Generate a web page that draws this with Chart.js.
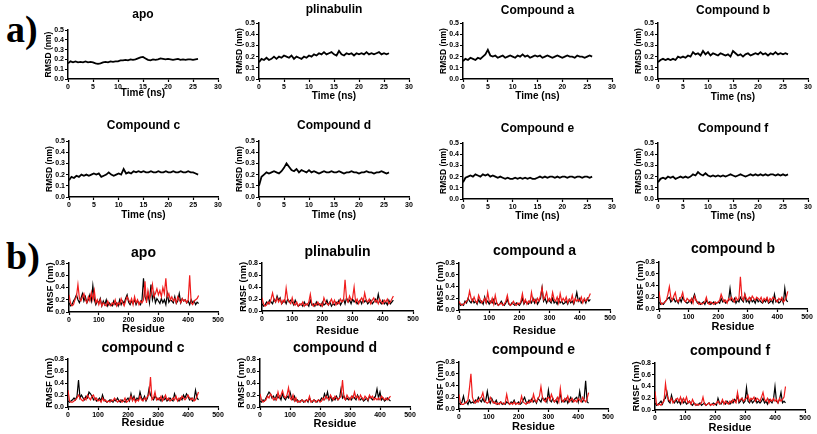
<!DOCTYPE html>
<html>
<head>
<meta charset="utf-8">
<script src="https://cdn.jsdelivr.net/npm/chart.js@4.4.1/dist/chart.umd.min.js"></script>
<style>
  html, body { margin: 0; padding: 0; background: #fff; width: 817px; height: 434px; overflow: hidden; }
  .panel { position: absolute; }
  .tag { position: absolute; font-family: "Liberation Serif", "DejaVu Serif", serif; font-weight: bold; font-size: 38px; line-height: 1; }
</style>
</head>
<body>
<div class="tag" style="left:6px;top:10px">a)</div>
<div class="tag" style="left:6px;top:237px">b)</div>
<script>
// ---- data ----
const timeNs = [0,0.5,1,1.5,2,2.5,3,3.5,4,4.5,5,5.5,6,6.5,7,7.5,8,8.5,9,9.5,10,10.5,11,11.5,12,12.5,13,13.5,14,14.5,
  15,15.5,16,16.5,17,17.5,18,18.5,19,19.5,20,20.5,21,21.5,22,22.5,23,23.5,24,24.5,25,25.5,26];

const rmsdApo = [0.16,0.18,0.17,0.18,0.17,0.175,0.17,0.18,0.17,0.175, 0.17,0.16,0.155,0.16,0.17,0.175,0.17,0.18,0.175,0.18,
  0.18,0.19,0.19,0.195,0.19,0.2,0.195,0.2,0.21,0.22, 0.225,0.21,0.195,0.19,0.2,0.195,0.2,0.21,0.205,0.2,
  0.205,0.2,0.195,0.2,0.205,0.195,0.2,0.195,0.2,0.2, 0.195,0.2,0.205];
const rmsdPlinabulin = [0.15,0.18,0.17,0.19,0.17,0.18,0.2,0.18,0.2,0.19, 0.21,0.2,0.19,0.21,0.18,0.2,0.19,0.18,0.2,0.19,
  0.21,0.2,0.22,0.21,0.23,0.22,0.24,0.22,0.23,0.24, 0.22,0.21,0.25,0.22,0.21,0.23,0.22,0.23,0.21,0.23,
  0.22,0.23,0.22,0.24,0.22,0.23,0.22,0.23,0.24,0.22, 0.23,0.22,0.23];
const rmsdCpdA = [0.16,0.18,0.17,0.19,0.18,0.17,0.19,0.18,0.2,0.22, 0.26,0.21,0.2,0.21,0.19,0.2,0.21,0.19,0.2,0.21,
  0.2,0.19,0.21,0.2,0.22,0.2,0.21,0.19,0.2,0.21, 0.2,0.21,0.19,0.2,0.21,0.2,0.19,0.2,0.21,0.2,
  0.19,0.2,0.21,0.2,0.2,0.19,0.21,0.2,0.2,0.19, 0.2,0.21,0.2];
const rmsdCpdB = [0.15,0.17,0.18,0.17,0.18,0.17,0.18,0.17,0.2,0.19, 0.2,0.19,0.21,0.2,0.24,0.22,0.23,0.21,0.25,0.22,
  0.24,0.21,0.23,0.22,0.21,0.23,0.22,0.21,0.22,0.2, 0.25,0.23,0.21,0.22,0.2,0.22,0.23,0.21,0.22,0.23,
  0.22,0.24,0.22,0.23,0.21,0.23,0.22,0.24,0.22,0.23, 0.22,0.23,0.22];
const rmsdCpdC = [0.15,0.18,0.17,0.19,0.18,0.2,0.19,0.2,0.19,0.2, 0.21,0.2,0.21,0.18,0.19,0.2,0.22,0.2,0.19,0.2,
  0.21,0.2,0.25,0.21,0.22,0.21,0.23,0.22,0.23,0.22, 0.23,0.22,0.22,0.23,0.22,0.22,0.23,0.22,0.22,0.23,
  0.22,0.22,0.23,0.22,0.22,0.23,0.22,0.22,0.23,0.22, 0.22,0.21,0.2];
const rmsdCpdD = [0.1,0.18,0.2,0.22,0.21,0.22,0.23,0.22,0.21,0.23, 0.26,0.3,0.27,0.24,0.23,0.25,0.22,0.24,0.23,0.22,
  0.24,0.22,0.23,0.22,0.21,0.22,0.23,0.22,0.22,0.23, 0.22,0.22,0.23,0.22,0.21,0.22,0.22,0.23,0.22,0.22,
  0.21,0.22,0.22,0.23,0.22,0.22,0.21,0.22,0.22,0.23, 0.22,0.21,0.22];
const rmsdCpdE = [0.15,0.19,0.2,0.21,0.2,0.22,0.21,0.2,0.22,0.21, 0.22,0.2,0.21,0.2,0.19,0.2,0.19,0.18,0.19,0.18,
  0.18,0.19,0.18,0.19,0.18,0.19,0.18,0.19,0.18,0.18, 0.19,0.2,0.19,0.2,0.19,0.2,0.2,0.19,0.2,0.19,
  0.2,0.2,0.19,0.2,0.2,0.19,0.2,0.2,0.19,0.2, 0.2,0.19,0.2];
const rmsdCpdF = [0.15,0.18,0.19,0.18,0.2,0.19,0.2,0.18,0.19,0.2, 0.19,0.2,0.19,0.2,0.22,0.21,0.24,0.22,0.21,0.23,
  0.21,0.2,0.21,0.2,0.21,0.2,0.21,0.2,0.21,0.22, 0.21,0.2,0.21,0.22,0.21,0.2,0.21,0.22,0.21,0.22,
  0.21,0.22,0.21,0.22,0.21,0.22,0.22,0.21,0.22,0.21, 0.22,0.21,0.22];

const residueNo = [0,5,10,15,20,25,30,35,40,45,50,55,60,65,70,75,80,85,90,95,100,105,110,115,120,125,130,135,140,145,
  150,155,160,165,170,175,180,185,190,195,200,205,210,215,220,225,230,235,240,245,250,255,260,265,270,275,280,285,290,295,
  300,305,310,315,320,325,330,335,340,345,350,355,360,365,370,375,380,385,390,395,400,405,410,415,420,425,430,435];

const rmsfApoBlack = [0.15,0.10,0.12,0.18,0.22,0.28,0.20,0.15,0.22,0.30, 0.18,0.25,0.15,0.20,0.28,0.18,0.43,0.20,0.12,0.18,
  0.15,0.22,0.10,0.18,0.12,0.20,0.10,0.15,0.12,0.10, 0.18,0.12,0.15,0.10,0.20,0.12,0.18,0.14,0.22,0.28,
  0.16,0.12,0.18,0.14,0.20,0.12,0.18,0.15,0.12,0.20, 0.55,0.25,0.18,0.30,0.15,0.45,0.20,0.30,0.15,0.22,
  0.18,0.14,0.22,0.15,0.20,0.12,0.30,0.16,0.20,0.18, 0.15,0.25,0.14,0.18,0.30,0.15,0.22,0.18,0.20,0.15,
  0.18,0.12,0.20,0.15,0.18,0.12,0.16,0.14];
const rmsfApoRed = [0.28,0.15,0.10,0.12,0.20,0.25,0.45,0.22,0.18,0.25, 0.30,0.20,0.15,0.25,0.18,0.32,0.20,0.35,0.15,0.20,
  0.12,0.20,0.10,0.15,0.12,0.10,0.18,0.12,0.10,0.15, 0.12,0.20,0.10,0.15,0.12,0.22,0.15,0.10,0.18,0.25,
  0.20,0.15,0.22,0.12,0.25,0.15,0.20,0.12,0.18,0.15, 0.20,0.50,0.15,0.35,0.22,0.30,0.45,0.25,0.30,0.38,
  0.28,0.35,0.25,0.40,0.30,0.55,0.25,0.30,0.20,0.25, 0.18,0.22,0.15,0.25,0.20,0.15,0.22,0.18,0.20,0.15,
  0.20,0.60,0.15,0.12,0.18,0.20,0.22,0.27];
const rmsfPlinBlack = [0.12,0.08,0.10,0.15,0.12,0.18,0.15,0.12,0.20,0.15, 0.25,0.18,0.22,0.12,0.15,0.18,0.12,0.20,0.15,0.18,
  0.15,0.10,0.18,0.12,0.08,0.10,0.12,0.08,0.15,0.10, 0.12,0.08,0.18,0.10,0.12,0.08,0.15,0.10,0.12,0.08,
  0.15,0.10,0.12,0.18,0.10,0.15,0.08,0.12,0.10,0.15, 0.12,0.18,0.10,0.15,0.20,0.12,0.22,0.15,0.18,0.12,
  0.20,0.15,0.18,0.12,0.15,0.18,0.12,0.20,0.15,0.18, 0.12,0.15,0.18,0.12,0.15,0.20,0.15,0.28,0.15,0.12,
  0.18,0.12,0.15,0.10,0.18,0.12,0.15,0.18];
const rmsfPlinRed = [0.22,0.12,0.08,0.10,0.15,0.12,0.20,0.30,0.18,0.15, 0.22,0.15,0.20,0.12,0.18,0.15,0.38,0.20,0.15,0.12,
  0.22,0.12,0.10,0.15,0.08,0.12,0.10,0.15,0.08,0.12, 0.10,0.15,0.28,0.12,0.08,0.12,0.10,0.15,0.10,0.12,
  0.08,0.22,0.15,0.12,0.10,0.15,0.20,0.12,0.18,0.10, 0.15,0.12,0.20,0.15,0.18,0.52,0.20,0.15,0.25,0.18,
  0.22,0.40,0.15,0.20,0.12,0.18,0.22,0.15,0.30,0.18, 0.15,0.20,0.12,0.18,0.22,0.15,0.18,0.12,0.20,0.15,
  0.12,0.18,0.15,0.20,0.12,0.15,0.20,0.25];
const rmsfABlack = [0.12,0.08,0.10,0.08,0.15,0.12,0.20,0.15,0.12,0.18, 0.12,0.15,0.10,0.18,0.12,0.15,0.10,0.22,0.12,0.15,
  0.10,0.15,0.12,0.18,0.10,0.12,0.08,0.10,0.15,0.10, 0.08,0.12,0.18,0.10,0.08,0.12,0.10,0.08,0.12,0.10,
  0.08,0.12,0.20,0.10,0.15,0.12,0.10,0.15,0.12,0.20, 0.12,0.18,0.10,0.15,0.20,0.38,0.15,0.20,0.12,0.18,
  0.15,0.12,0.20,0.12,0.15,0.10,0.18,0.12,0.15,0.10, 0.12,0.15,0.10,0.18,0.12,0.15,0.10,0.18,0.30,0.15,
  0.20,0.12,0.15,0.18,0.12,0.20,0.15,0.18];
const rmsfARed = [0.15,0.10,0.08,0.10,0.12,0.15,0.18,0.32,0.20,0.15, 0.22,0.15,0.12,0.25,0.18,0.12,0.15,0.20,0.12,0.30,
  0.15,0.12,0.20,0.10,0.25,0.12,0.08,0.10,0.12,0.08, 0.10,0.15,0.25,0.12,0.08,0.10,0.15,0.10,0.08,0.12,
  0.10,0.15,0.28,0.12,0.18,0.10,0.15,0.12,0.30,0.15, 0.18,0.12,0.20,0.15,0.25,0.38,0.18,0.22,0.30,0.15,
  0.20,0.15,0.30,0.18,0.15,0.22,0.12,0.28,0.15,0.20, 0.15,0.22,0.12,0.18,0.15,0.25,0.12,0.20,0.15,0.18,
  0.15,0.22,0.12,0.20,0.15,0.18,0.22,0.28];
const rmsfBBlack = [0.12,0.08,0.10,0.08,0.12,0.15,0.18,0.20,0.12,0.15, 0.18,0.12,0.15,0.10,0.18,0.12,0.20,0.15,0.12,0.10,
  0.12,0.15,0.10,0.18,0.25,0.15,0.10,0.12,0.08,0.10, 0.12,0.08,0.15,0.10,0.12,0.08,0.10,0.12,0.08,0.10,
  0.12,0.10,0.18,0.12,0.15,0.10,0.12,0.15,0.35,0.15, 0.12,0.18,0.10,0.15,0.12,0.20,0.15,0.12,0.25,0.12,
  0.15,0.10,0.18,0.12,0.15,0.10,0.18,0.12,0.15,0.12, 0.10,0.15,0.12,0.18,0.10,0.12,0.15,0.10,0.25,0.12,
  0.15,0.10,0.12,0.18,0.10,0.35,0.15,0.12];
const rmsfBRed = [0.30,0.12,0.08,0.10,0.12,0.15,0.25,0.38,0.20,0.15, 0.22,0.28,0.15,0.12,0.18,0.20,0.28,0.15,0.12,0.18,
  0.15,0.12,0.18,0.10,0.22,0.15,0.12,0.08,0.10,0.08, 0.10,0.12,0.20,0.10,0.08,0.12,0.10,0.08,0.12,0.10,
  0.12,0.15,0.25,0.18,0.12,0.15,0.10,0.18,0.15,0.20, 0.15,0.12,0.20,0.15,0.18,0.55,0.20,0.15,0.25,0.18,
  0.15,0.20,0.15,0.22,0.18,0.15,0.20,0.18,0.15,0.20, 0.12,0.18,0.15,0.20,0.12,0.18,0.15,0.20,0.18,0.15,
  0.12,0.18,0.15,0.20,0.12,0.15,0.20,0.30];
const rmsfCBlack = [0.10,0.08,0.10,0.12,0.15,0.12,0.18,0.45,0.15,0.20, 0.15,0.12,0.18,0.15,0.25,0.22,0.18,0.12,0.15,0.10,
  0.12,0.15,0.10,0.20,0.12,0.10,0.08,0.10,0.12,0.10, 0.08,0.12,0.10,0.15,0.10,0.08,0.12,0.10,0.08,0.12,
  0.15,0.10,0.22,0.12,0.18,0.10,0.15,0.12,0.25,0.15, 0.12,0.18,0.10,0.15,0.30,0.20,0.15,0.12,0.18,0.15,
  0.12,0.15,0.10,0.18,0.12,0.15,0.10,0.12,0.15,0.12, 0.10,0.22,0.15,0.12,0.10,0.15,0.12,0.20,0.15,0.22,
  0.18,0.12,0.15,0.10,0.12,0.28,0.15,0.12];
const rmsfCRed = [0.28,0.10,0.08,0.08,0.10,0.12,0.15,0.20,0.15,0.12, 0.10,0.15,0.12,0.20,0.15,0.12,0.18,0.20,0.12,0.15,
  0.10,0.12,0.08,0.15,0.10,0.12,0.08,0.10,0.08,0.12, 0.10,0.15,0.12,0.08,0.10,0.12,0.08,0.10,0.15,0.08,
  0.10,0.12,0.18,0.10,0.15,0.08,0.12,0.10,0.18,0.12, 0.10,0.15,0.12,0.18,0.20,0.50,0.12,0.15,0.25,0.12,
  0.15,0.12,0.18,0.10,0.15,0.20,0.12,0.15,0.10,0.12, 0.15,0.12,0.18,0.10,0.15,0.12,0.18,0.15,0.12,0.15,
  0.20,0.15,0.12,0.15,0.10,0.12,0.18,0.25];
const rmsfDBlack = [0.10,0.08,0.12,0.10,0.15,0.20,0.25,0.22,0.15,0.18, 0.12,0.20,0.15,0.18,0.12,0.22,0.15,0.12,0.18,0.15,
  0.25,0.15,0.12,0.18,0.10,0.12,0.08,0.10,0.12,0.08, 0.10,0.12,0.08,0.15,0.10,0.08,0.12,0.10,0.08,0.12,
  0.10,0.15,0.12,0.22,0.15,0.25,0.12,0.18,0.10,0.15, 0.12,0.18,0.12,0.15,0.30,0.15,0.18,0.12,0.15,0.12,
  0.15,0.12,0.18,0.15,0.12,0.20,0.15,0.12,0.15,0.10, 0.12,0.15,0.10,0.18,0.15,0.12,0.15,0.18,0.30,0.15,
  0.25,0.12,0.15,0.10,0.12,0.15,0.12,0.10];
const rmsfDRed = [0.22,0.12,0.08,0.10,0.12,0.18,0.15,0.22,0.18,0.12, 0.15,0.12,0.25,0.15,0.20,0.27,0.18,0.15,0.20,0.32,
  0.15,0.12,0.20,0.10,0.15,0.08,0.10,0.08,0.12,0.10, 0.08,0.12,0.10,0.18,0.08,0.10,0.12,0.08,0.10,0.12,
  0.08,0.10,0.15,0.12,0.18,0.15,0.12,0.20,0.15,0.12, 0.18,0.15,0.12,0.15,0.18,0.45,0.15,0.12,0.20,0.15,
  0.12,0.18,0.15,0.25,0.15,0.18,0.12,0.20,0.15,0.12, 0.18,0.15,0.12,0.20,0.15,0.18,0.12,0.15,0.12,0.15,
  0.12,0.18,0.15,0.12,0.15,0.12,0.15,0.18];
const rmsfEBlack = [0.10,0.08,0.12,0.22,0.10,0.12,0.08,0.15,0.10,0.12, 0.10,0.15,0.12,0.20,0.15,0.12,0.18,0.12,0.15,0.30,
  0.15,0.10,0.18,0.12,0.10,0.15,0.08,0.10,0.12,0.08, 0.10,0.08,0.12,0.10,0.08,0.12,0.10,0.15,0.08,0.10,
  0.12,0.08,0.10,0.15,0.20,0.12,0.10,0.15,0.12,0.18, 0.12,0.15,0.10,0.18,0.15,0.12,0.20,0.15,0.18,0.12,
  0.32,0.15,0.12,0.18,0.12,0.15,0.10,0.18,0.25,0.12, 0.15,0.12,0.18,0.10,0.15,0.20,0.12,0.15,0.18,0.20,
  0.12,0.30,0.15,0.12,0.18,0.48,0.12,0.10];
const rmsfERed = [0.25,0.10,0.08,0.08,0.10,0.12,0.15,0.35,0.60,0.20, 0.12,0.10,0.15,0.12,0.18,0.20,0.28,0.15,0.12,0.10,
  0.12,0.20,0.15,0.10,0.12,0.08,0.10,0.08,0.12,0.10, 0.08,0.10,0.25,0.12,0.08,0.10,0.08,0.12,0.08,0.10,
  0.08,0.10,0.22,0.12,0.10,0.08,0.12,0.10,0.15,0.12, 0.25,0.15,0.12,0.18,0.22,0.38,0.20,0.15,0.12,0.18,
  0.20,0.15,0.25,0.18,0.12,0.15,0.20,0.12,0.35,0.15, 0.12,0.18,0.15,0.22,0.12,0.15,0.18,0.12,0.15,0.12,
  0.18,0.15,0.12,0.20,0.15,0.12,0.18,0.28];
const rmsfFBlack = [0.12,0.08,0.10,0.12,0.15,0.10,0.18,0.20,0.30,0.15, 0.12,0.25,0.15,0.12,0.18,0.12,0.15,0.10,0.18,0.12,
  0.15,0.10,0.12,0.15,0.10,0.08,0.12,0.10,0.08,0.10, 0.12,0.08,0.10,0.12,0.08,0.10,0.12,0.08,0.10,0.12,
  0.10,0.08,0.20,0.12,0.10,0.15,0.12,0.10,0.15,0.12, 0.10,0.15,0.12,0.18,0.15,0.25,0.12,0.15,0.20,0.12,
  0.15,0.38,0.15,0.12,0.18,0.12,0.15,0.20,0.12,0.15, 0.12,0.15,0.20,0.12,0.15,0.10,0.18,0.15,0.12,0.18,
  0.40,0.15,0.12,0.18,0.30,0.12,0.15,0.12];
const rmsfFRed = [0.32,0.10,0.08,0.10,0.08,0.12,0.15,0.45,0.25,0.18, 0.15,0.20,0.12,0.15,0.18,0.20,0.15,0.22,0.12,0.20,
  0.15,0.22,0.12,0.15,0.10,0.18,0.12,0.08,0.10,0.08, 0.10,0.12,0.22,0.10,0.08,0.10,0.12,0.08,0.10,0.08,
  0.10,0.12,0.15,0.10,0.12,0.18,0.10,0.15,0.12,0.10, 0.15,0.12,0.18,0.15,0.12,0.30,0.15,0.18,0.20,0.15,
  0.18,0.20,0.25,0.15,0.20,0.18,0.22,0.15,0.20,0.18, 0.15,0.22,0.30,0.18,0.15,0.20,0.12,0.18,0.15,0.20,
  0.15,0.18,0.12,0.20,0.15,0.18,0.22,0.40];

// ---- panel placement (plot area box in page pixels) ----
const rmsdPanels = [
  { title: 'apo',        series: rmsdApo,        L: 68,  R: 218, T: 30,  B: 79,  ty: 15,  xty: 93 },
  { title: 'plinabulin', series: rmsdPlinabulin, L: 259, R: 409, T: 23,  B: 79,  ty: 10,  xty: 96 },
  { title: 'Compound a', series: rmsdCpdA,       L: 463, R: 612, T: 23,  B: 79,  ty: 11,  xty: 96 },
  { title: 'Compound b', series: rmsdCpdB,       L: 658, R: 808, T: 23,  B: 79,  ty: 11,  xty: 97 },
  { title: 'Compound c', series: rmsdCpdC,       L: 69,  R: 218, T: 141, B: 197, ty: 126, xty: 215 },
  { title: 'Compound d', series: rmsdCpdD,       L: 259, R: 409, T: 141, B: 197, ty: 126, xty: 215 },
  { title: 'Compound e', series: rmsdCpdE,       L: 463, R: 612, T: 143, B: 199, ty: 129, xty: 216 },
  { title: 'Compound f', series: rmsdCpdF,       L: 658, R: 808, T: 143, B: 199, ty: 129, xty: 216 },
];
const rmsfPanels = [
  { title: 'apo',        black: rmsfApoBlack,  red: rmsfApoRed,  L: 69,  R: 218, T: 263, B: 312, ty: 253, xty: 329 },
  { title: 'plinabulin', black: rmsfPlinBlack, red: rmsfPlinRed, L: 262, R: 413, T: 263, B: 311, ty: 252, xty: 331 },
  { title: 'compound a', black: rmsfABlack,    red: rmsfARed,    L: 459, R: 610, T: 263, B: 310, ty: 251, xty: 331 },
  { title: 'compound b', black: rmsfBBlack,    red: rmsfBRed,    L: 659, R: 807, T: 262, B: 309, ty: 249, xty: 327 },
  { title: 'compound c', black: rmsfCBlack,    red: rmsfCRed,    L: 68,  R: 218, T: 359, B: 407, ty: 348, xty: 423 },
  { title: 'compound d', black: rmsfDBlack,    red: rmsfDRed,    L: 260, R: 410, T: 359, B: 407, ty: 348, xty: 424 },
  { title: 'compound e', black: rmsfEBlack,    red: rmsfERed,    L: 459, R: 608, T: 362, B: 409, ty: 350, xty: 427 },
  { title: 'compound f', black: rmsfFBlack,    red: rmsfFRed,    L: 655, R: 805, T: 363, B: 410, ty: 351, xty: 428 },
];

Chart.defaults.font.family = '"Liberation Sans", Arial, sans-serif';
Chart.defaults.font.weight = 'bold';
Chart.defaults.color = '#000';
Chart.defaults.animation = false;

const Y_AXIS_W = 24;
const PAD_R = 10;

function toPoints(xs, ys) {
  return xs.map((x, i) => ({ x: x, y: ys[i] }));
}

function makePanel(p, cfg) {
  const top = Math.round(p.ty - cfg.titleSize / 2);
  const left = p.L - Y_AXIS_W;
  const xh = Math.round(p.xty + cfg.xTitleSize * 0.6 - p.B);
  const w = p.R - p.L + Y_AXIS_W + PAD_R;
  const h = p.B - top + xh;

  const canvas = document.createElement('canvas');
  canvas.className = 'panel';
  canvas.width = w;
  canvas.height = h;
  canvas.style.left = left + 'px';
  canvas.style.top = top + 'px';
  canvas.style.width = w + 'px';
  canvas.style.height = h + 'px';
  document.body.appendChild(canvas);

  new Chart(canvas.getContext('2d'), {
    type: 'line',
    data: { datasets: cfg.datasets },
    options: {
      responsive: false,
      maintainAspectRatio: false,
      layout: { padding: { left: 0, right: PAD_R, top: 0, bottom: 0 } },
      elements: { point: { radius: 0 }, line: { tension: 0 } },
      plugins: {
        legend: { display: false },
        tooltip: { enabled: false },
        title: {
          display: true,
          text: p.title,
          fullSize: false,
          font: { size: cfg.titleSize, weight: 'bold', lineHeight: 1 },
          padding: { top: 0, bottom: p.T - top - cfg.titleSize },
        },
      },
      scales: {
        x: {
          type: 'linear',
          min: 0,
          max: cfg.xMax,
          border: { color: '#000', width: 1.5 },
          grid: { drawOnChartArea: false, drawTicks: true, tickLength: 3, tickWidth: 1.2, tickColor: '#000' },
          ticks: { stepSize: cfg.xStep, autoSkip: false, maxRotation: 0, padding: 1, font: { size: 7, weight: 'bold' } },
          title: { display: true, text: cfg.xTitle, padding: 0, font: { size: cfg.xTitleSize, weight: 'bold' } },
          afterFit: (s) => { s.height = xh; },
        },
        y: {
          min: 0,
          max: cfg.yMax,
          border: { color: '#000', width: 1.5 },
          grid: { drawOnChartArea: false, drawTicks: true, tickLength: 3, tickWidth: 1.2, tickColor: '#000' },
          ticks: { stepSize: cfg.yStep, autoSkip: false, padding: 1, font: { size: 7, weight: 'bold' }, callback: (v) => Number(v).toFixed(1) },
          title: { display: true, text: cfg.yTitle, padding: 0, font: { size: cfg.yTitleSize, weight: 'bold' } },
          afterFit: (s) => { s.width = Y_AXIS_W; },
        },
      },
    },
  });
}

rmsdPanels.forEach((p) => {
  makePanel(p, {
    titleSize: 12, xTitle: 'Time (ns)', xTitleSize: 10, yTitle: 'RMSD (nm)', yTitleSize: 8.5,
    xMax: 30, xStep: 5, yMax: 0.5, yStep: 0.1,
    datasets: [
      { data: toPoints(timeNs, p.series), borderColor: '#000', borderWidth: 1.8 },
    ],
  });
});

rmsfPanels.forEach((p) => {
  makePanel(p, {
    titleSize: 14, xTitle: 'Residue', xTitleSize: 11, yTitle: 'RMSF (nm)', yTitleSize: 9.5,
    xMax: 500, xStep: 100, yMax: 0.8, yStep: 0.2,
    datasets: [
      { data: toPoints(residueNo, p.red), borderColor: '#f01c1c', borderWidth: 1.2 },
      { data: toPoints(residueNo, p.black), borderColor: '#000', borderWidth: 1.2 },
    ],
  });
});
</script>
</body>
</html>
